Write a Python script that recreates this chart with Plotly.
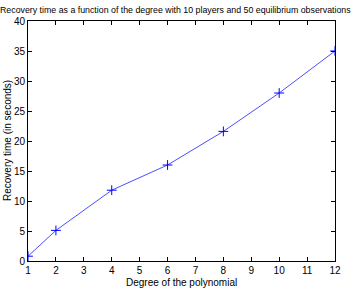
import plotly.graph_objects as go

degree = [1, 2, 4, 6, 8, 10, 12]
recovery_time = [0.8, 5.1, 11.8, 16.0, 21.6, 28.0, 35.0]
x_ticks = list(range(1, 13))
y_ticks = list(range(0, 41, 5))

FONT = "Liberation Sans, Arial, sans-serif"

fig = go.Figure()
fig.add_trace(go.Scatter(
    x=degree, y=recovery_time, mode="lines+markers",
    line=dict(color="#0000ff", width=0.7),
    marker=dict(symbol="cross-thin", size=7, line=dict(color="#0000ff", width=1), color="#0000ff"),
))

axis_common = dict(
    showgrid=False, zeroline=False, showline=True, linecolor="#000", linewidth=1,
    mirror="ticks", ticks="inside", ticklen=4, tickcolor="#000", tickwidth=1,
    tickfont=dict(family=FONT, size=10, color="#000"), automargin=False,
)
fig.update_xaxes(range=[1, 12], tickvals=x_ticks, **axis_common)
fig.update_yaxes(range=[0, 40], tickvals=y_ticks, **axis_common)

fig.update_layout(
    width=358, height=294,
    margin=dict(l=28, r=23, t=21, b=33),
    plot_bgcolor="white", paper_bgcolor="white",
    showlegend=False,
    annotations=[
        dict(text="Recovery time as a function of the degree with 10 players and 50 equilibrium observations",
             xref="paper", yref="paper", x=0.48, y=1, yanchor="bottom", yshift=4,
             showarrow=False, font=dict(family=FONT, size=8.8, color="#000")),
        dict(text="Degree of the polynomial", xref="paper", yref="paper", x=0.5, y=0,
             yanchor="middle", yshift=-21, showarrow=False, font=dict(family=FONT, size=10, color="#000")),
        dict(text="Recovery time (in seconds)", xref="paper", yref="paper", x=0, y=0.5,
             xanchor="center", xshift=-21, textangle=-90, showarrow=False,
             font=dict(family=FONT, size=10, color="#000")),
    ],
)
fig.write_html("out.html")
